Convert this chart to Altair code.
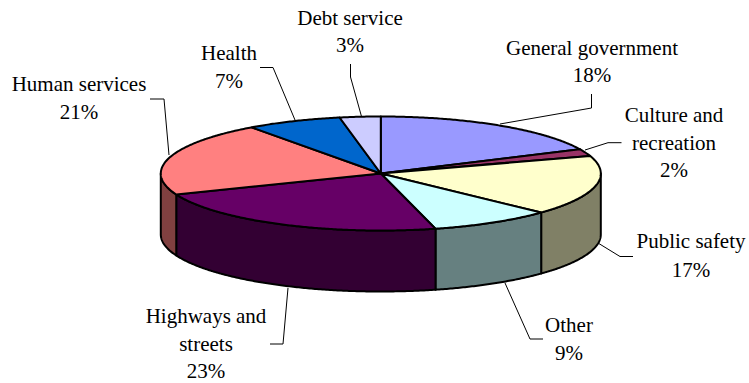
import math
import altair as alt

# Spending shares, clockwise from twelve o'clock
categories = ["General government", "Culture and recreation", "Public safety", "Other",
              "Highways and streets", "Human services", "Health", "Debt service"]
shares = [18, 2, 17, 9, 23, 21, 7, 3]
top_colors = ["#9999FF", "#993366", "#FFFFCC", "#CCFFFF", "#660066", "#FF8080", "#0066CC", "#CCCCFF"]
wall_colors = ["#4D4D80", "#4D1A33", "#808066", "#668080", "#330033", "#804040", "#003366", "#666680"]

# Label layout: one entry per category, centre x and the baseline of each text line
label_lines = [["General government"], ["Culture and", "recreation"], ["Public safety"], ["Other"],
               ["Highways and", "streets"], ["Human services"], ["Health"], ["Debt service"]]
label_x = [592, 674, 691, 569, 206, 79, 229, 350]
label_y = [[55, 82], [122, 150, 177], [248, 277], [332, 360],
           [323, 351, 378], [91, 119], [60, 88], [25, 52]]

# Leader polylines: rim end, elbow, label end
leader_paths = [[(500, 124), (591.5, 108), (591.5, 94)],
                [(585, 150), (608, 142.7), (621.5, 142.7)],
                [(598, 243), (620, 256.5), (633, 256.5)],
                [(505, 283), (530, 339), (543, 339)],
                [(288, 288), (283, 344), (270, 344)],
                [(169, 155), (164, 99), (150, 99)],
                [(295, 120), (273, 67.5), (260, 67.5)],
                [(361.5, 116.5), (350.5, 77), (350.5, 64)]]

WIDTH, HEIGHT = 749, 383
CX, CY, RX, RY, DEPTH = 380.8, 173.5, 220, 57, 61


def rim(deg, drop=0.0):
    t = math.radians(deg)
    return [CX + RX * math.sin(t), CY - RY * math.cos(t) + drop]


def arc(a, b, drop=0.0):
    n = max(2, int(abs(b - a)) * 2)
    return [rim(a + (b - a) * i / n, drop) for i in range(n + 1)]


def feature(ring, fill):
    return {"type": "Feature", "properties": {"fill": fill},
            "geometry": {"type": "Polygon", "coordinates": [ring + [ring[0]]]}}


edges = [0.0]
for s in shares:
    edges.append(edges[-1] + s * 3.6)

walls, tops = [], []
for i, (a, b) in enumerate(zip(edges[:-1], edges[1:])):
    lo, hi = max(a, 90), min(b, 270)
    if lo < hi:
        walls.append(feature(arc(lo, hi) + arc(hi, lo, DEPTH), wall_colors[i]))
    tops.append(feature([[CX, CY]] + arc(a, b), top_colors[i]))

text_rows = []
for i, lines in enumerate(label_lines):
    rows = lines + [f"{shares[i]}%"]
    for line, y in zip(rows, label_y[i]):
        text_rows.append({"x": label_x[i], "y": y, "text": line})

leader_rows = [{"x": x, "y": y, "path": i, "step": j}
               for i, path in enumerate(leader_paths) for j, (x, y) in enumerate(path)]

x_enc = alt.X("x:Q", axis=None, scale=alt.Scale(domain=[0, WIDTH], range=[0, WIDTH], nice=False, zero=False))
y_enc = alt.Y("y:Q", axis=None, scale=alt.Scale(domain=[0, HEIGHT], range=[0, HEIGHT], nice=False, zero=False))


def pie_layer(features):
    return (alt.Chart(alt.Data(values=features))
            .mark_geoshape(stroke="black", strokeWidth=2, strokeJoin="round")
            .encode(fill=alt.Fill("properties.fill:N", scale=None))
            .project(type="identity", scale=1, translate=[0, 0]))


leaders = (alt.Chart(alt.Data(values=leader_rows))
           .mark_line(color="black", strokeWidth=1)
           .encode(x=x_enc, y=y_enc, detail="path:N", order="step:Q"))

texts = (alt.Chart(alt.Data(values=text_rows))
         .mark_text(font="Liberation Serif", fontSize=21, color="black", align="center", baseline="alphabetic")
         .encode(x=x_enc, y=y_enc, text="text:N"))

chart = (alt.layer(leaders, pie_layer(walls), pie_layer(tops), texts)
         .resolve_scale(x="shared", y="shared")
         .properties(width=WIDTH, height=HEIGHT, padding=0, autosize=alt.AutoSizeParams(type="none"),
                     background="white")
         .configure_view(stroke=None))

chart.save("out.html", embed_options={"renderer": "svg", "actions": False})
